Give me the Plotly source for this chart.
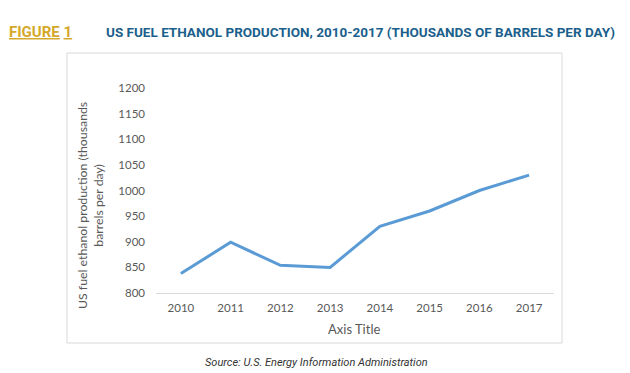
import plotly.graph_objects as go

years = ["2010", "2011", "2012", "2013", "2014", "2015", "2016", "2017"]
production = [838, 899, 854, 850, 930, 960, 1000, 1030]
y_ticks = [800, 850, 900, 950, 1000, 1050, 1100, 1150, 1200]

OFF = 8  # default page body margin
W, H = 630 - OFF, 373 - OFF
# plot area in page pixels
PL, PR, PT, PB = 156, 554, 88, 293
L, T = PL - OFF, PT - OFF
R, B = W - (PR - OFF), H - (PB - OFF)
pw, ph = PR - PL, PB - PT

def px(x):
    return (x - PL) / pw

def py(y):
    return (PB - y) / ph

fig = go.Figure()
fig.add_trace(go.Scatter(
    x=years, y=production, mode="lines",
    line=dict(color="#5B9BD5", width=3),
    hoverinfo="x+y",
))

tick_font = dict(family="Lato, Carlito, Calibri, sans-serif", size=11.5, color="#595959")
head = "Roboto, Liberation Sans Narrow, Arial Narrow, sans-serif"

fig.update_layout(
    width=W, height=H,
    margin=dict(l=L, r=R, t=T, b=B, pad=0),
    paper_bgcolor="white", plot_bgcolor="white",
    showlegend=False,
    xaxis=dict(
        type="category", range=[-0.5, 7.5], showgrid=False, zeroline=False,
        showline=True, linecolor="#D9D9D9", linewidth=1,
        ticks="", tickfont=tick_font, ticklabelstandoff=4,
    ),
    yaxis=dict(
        range=[800, 1200], tickvals=y_ticks, showgrid=False, zeroline=False,
        showline=False, ticks="", tickfont=tick_font, ticklabelstandoff=10,
    ),
    shapes=[dict(
        type="rect", xref="paper", yref="paper",
        x0=px(67), x1=px(562), y0=py(343), y1=py(53),
        line=dict(color="#D9D9D9", width=1), fillcolor="rgba(0,0,0,0)", layer="below",
    )],
    annotations=[
        dict(text="<b><u>FIGURE</u> <u>1</u></b>", xref="paper", yref="paper",
             x=px(7), y=py(32), xanchor="left", yanchor="middle", showarrow=False,
             font=dict(family=head, size=15, color="#D4A82A")),
        dict(text="<b>US FUEL ETHANOL PRODUCTION, 2010-2017 (THOUSANDS OF BARRELS PER DAY)</b>",
             xref="paper", yref="paper", x=px(104), y=py(32), xanchor="left", yanchor="middle",
             showarrow=False, font=dict(family=head, size=13.5, color="#1B5F8C")),
        dict(text="US fuel ethanol production (thousands<br>barrels per day)",
             xref="paper", yref="paper", x=px(90), y=py(206), xanchor="center", yanchor="middle",
             textangle=-90, showarrow=False,
             font=dict(family="Lato, Carlito, sans-serif", size=12.3, color="#595959")),
        dict(text="Axis Title", xref="paper", yref="paper", x=px(354), y=py(329),
             xanchor="center", yanchor="middle", showarrow=False,
             font=dict(family="Lato, Carlito, sans-serif", size=13, color="#595959")),
        dict(text="<i>Source: U.S. Energy Information Administration</i>", xref="paper", yref="paper",
             x=px(316), y=py(362), xanchor="center", yanchor="middle", showarrow=False,
             font=dict(family="Roboto, sans-serif", size=11, color="#333333")),
    ],
)

fig.write_html("out.html")
